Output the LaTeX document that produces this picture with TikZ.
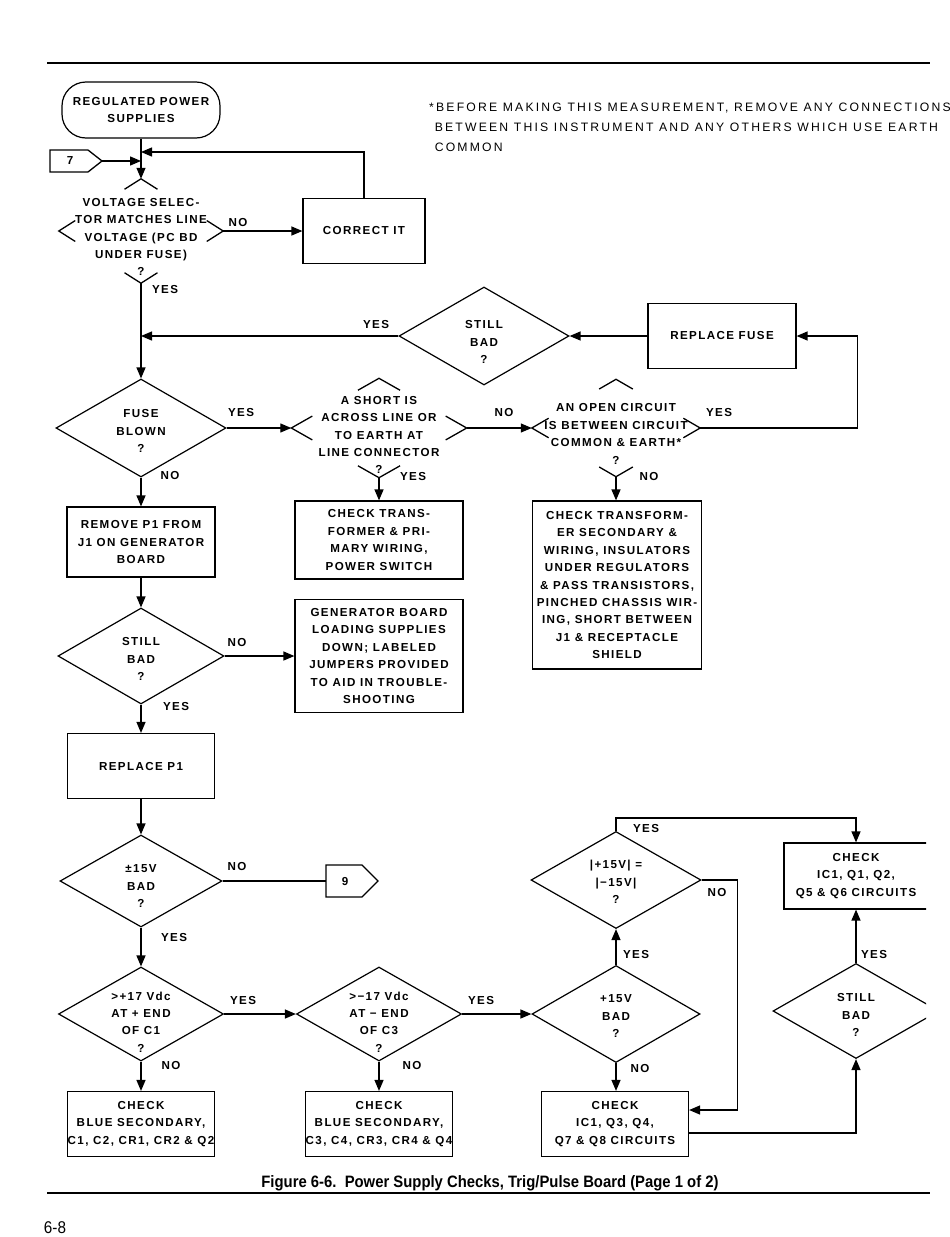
\documentclass[tikz,border=0pt]{standalone}
\usepackage{fontspec}
\usetikzlibrary{arrows.meta,calc,shapes.geometric}

\newfontfamily\chartfam[LetterSpace=12]{Liberation Sans}
\newfontfamily\notefam[LetterSpace=18]{Liberation Sans}
\newfontfamily\capfam[FakeStretch=0.9]{Liberation Sans}
\newcommand\chfont{\chartfam\bfseries\fontsize{11.6}{17.4}\selectfont}

\tikzset{
  wire/.style={line width=1.3pt},
  flow/.style={wire, -{Triangle[length=11pt,width=9pt]}},
  box/.style={draw, line width=1.2pt, align=center, inner sep=0pt, font=\chfont},
  txt/.style={align=center, inner sep=0pt, font=\chfont},
  dia/.style={diamond, draw, line width=1.2pt, inner sep=0pt},
  hexa/.style={diamond, inner sep=0pt},
}

% corners of a decision drawn only at its four points
\newcommand\corners[2][0.2]{%
  \draw[wire] ($(#2.north)!#1!(#2.west)$) -- (#2.north) -- ($(#2.north)!#1!(#2.east)$);
  \draw[wire] ($(#2.west)!#1!(#2.north)$) -- (#2.west) -- ($(#2.west)!#1!(#2.south)$);
  \draw[wire] ($(#2.east)!#1!(#2.north)$) -- (#2.east) -- ($(#2.east)!#1!(#2.south)$);
  \draw[wire] ($(#2.south)!#1!(#2.west)$) -- (#2.south) -- ($(#2.south)!#1!(#2.east)$);}

\begin{document}
\begin{tikzpicture}[x=1pt, y=-1pt]
  \useasboundingbox (0,0) rectangle (950,1237);
  \clip (0,0) rectangle (950,1237);
  \fill[white] (0,0) rectangle (950,1237);

  % page rules and footnote
  \draw[line width=1.6pt] (47,63) -- (930,63);
  \draw[line width=1.6pt] (47,1193) -- (930,1193);
  \node[anchor=west, align=left, inner sep=0pt, font={\notefam\fontsize{12.2}{20}\selectfont}] (note) at (429,127)
    {*BEFORE MAKING THIS MEASUREMENT, REMOVE ANY CONNECTIONS\\
     \ BETWEEN THIS INSTRUMENT AND ANY OTHERS WHICH USE EARTH\\
     \ COMMON};

  % left column
  \node[box, rounded corners=24pt, minimum width=158pt, minimum height=56pt] (start) at (141,110) {REGULATED POWER\\SUPPLIES};
  \node[hexa, minimum width=164pt, minimum height=104pt] (vs) at (141,231) {};
  \corners{vs}
  \node[txt] (vs-t) at (141,237) {VOLTAGE SELEC-\\TOR MATCHES LINE\\VOLTAGE (PC BD\\UNDER FUSE)\\?};
  \node[box, minimum width=122pt, minimum height=65pt] (ci) at (364,231) {CORRECT IT};

  \draw[wire] (50,150) -- (88,150) -- (102,161) -- (88,172) -- (50,172) -- cycle;
  \node[txt] (c7) at (70,161) {7};
  \coordinate (c7tip) at (102,161);
  \coordinate (j1) at (141,152);

  \node[dia, minimum width=170pt, minimum height=98pt] (sb1) at (484,336) {};
  \node[txt] (sb1-t) at (484,342) {STILL\\BAD\\?};
  \node[box, minimum width=148pt, minimum height=65pt] (rf) at (722,336) {REPLACE FUSE};
  \coordinate (j2) at (141,336);

  \node[dia, minimum width=170pt, minimum height=98pt] (fb) at (141,428) {};
  \node[txt] (fb-t) at (141,431) {FUSE\\BLOWN\\?};
  \node[hexa, minimum width=175pt, minimum height=99pt] (sh) at (379,428) {};
  \corners[0.24]{sh}
  \node[txt] (sh-t) at (379,435) {A SHORT IS\\ACROSS LINE OR\\TO EARTH AT\\LINE CONNECTOR\\?};
  \node[hexa, minimum width=168pt, minimum height=97pt] (op) at (616,428) {};
  \corners{op}
  \node[txt] (op-t) at (616,434) {AN OPEN CIRCUIT\\IS BETWEEN CIRCUIT\\COMMON \& EARTH*\\?};

  \node[box, minimum width=148pt, minimum height=70pt] (rm) at (141,542) {REMOVE P1 FROM\\J1 ON GENERATOR\\BOARD};
  \node[box, minimum width=168pt, minimum height=78pt] (ct) at (379,540) {CHECK TRANS-\\FORMER \& PRI-\\MARY WIRING,\\POWER SWITCH};
  \node[box, minimum width=169pt, minimum height=168pt] (cx) at (617,585) {CHECK TRANSFORM-\\ER SECONDARY \&\\WIRING, INSULATORS\\UNDER REGULATORS\\\& PASS TRANSISTORS,\\PINCHED CHASSIS WIR-\\ING, SHORT BETWEEN\\J1 \& RECEPTACLE\\SHIELD};

  \node[dia, minimum width=166pt, minimum height=96pt] (sb2) at (141,656) {};
  \node[txt] (sb2-t) at (141,659) {STILL\\BAD\\?};
  \node[box, minimum width=168pt, minimum height=113pt] (gb) at (379,656) {GENERATOR BOARD\\LOADING SUPPLIES\\DOWN; LABELED\\JUMPERS PROVIDED\\TO AID IN TROUBLE-\\SHOOTING};
  \node[box, minimum width=147pt, minimum height=65pt] (rp) at (141,766) {REPLACE P1};

  \node[dia, minimum width=162pt, minimum height=92pt] (pm) at (141,881) {};
  \node[txt] (pm-t) at (141,886) {±15V\\BAD\\?};
  \draw[wire] (326,865) -- (362,865) -- (378,881) -- (362,897) -- (326,897) -- cycle;
  \node[txt] (c9) at (345,881) {9};
  \coordinate (c9in) at (326,881);

  \node[dia, minimum width=165pt, minimum height=94pt] (p17) at (141,1014) {};
  \node[txt] (p17-t) at (141,1022) {>+17 Vdc\\AT + END\\OF C1\\?};
  \node[dia, minimum width=165pt, minimum height=94pt] (m17) at (379,1014) {};
  \node[txt] (m17-t) at (379,1022) {>−17 Vdc\\AT − END\\OF C3\\?};
  \node[box, minimum width=147pt, minimum height=65pt] (cb1) at (141,1124) {CHECK\\BLUE SECONDARY,\\C1, C2, CR1, CR2 \& Q2};
  \node[box, minimum width=147pt, minimum height=65pt] (cb2) at (379,1124) {CHECK\\BLUE SECONDARY,\\C3, C4, CR3, CR4 \& Q4};

  % right part
  \node[dia, minimum width=168pt, minimum height=97pt] (p15) at (616,1014) {};
  \node[txt] (p15-t) at (616,1016) {+15V\\BAD\\?};
  \node[dia, minimum width=170pt, minimum height=97pt] (ab) at (616,880) {};
  \node[txt] (ab-t) at (616,882) {|+15V| =\\|−15V|\\?};
  \node[box, minimum width=147pt, minimum height=65pt] (ci2) at (615,1124) {CHECK\\IC1, Q3, Q4,\\Q7 \& Q8 CIRCUITS};
  \begin{scope}
    \clip (700,800) rectangle (926,1100);
    \node[box, minimum width=144pt, minimum height=66pt] (cq) at (856,876) {CHECK\\IC1, Q1, Q2,\\Q5 \& Q6 CIRCUITS};
    \node[dia, minimum width=166pt, minimum height=95pt] (sb3) at (856,1011) {};
    \node[txt] (sb3-t) at (856,1015) {STILL\\BAD\\?};
  \end{scope}

  % connectors
  \draw[wire] (start) -- (j1);
  \draw[flow] (j1) -- (vs.north);
  \draw[flow] (c7tip) -- (c7tip -| start);
  \draw[flow] (vs.east) -- (vs.east -| ci.west);
  \draw[flow] (ci.north) |- (j1);
  \draw[flow] (vs.south) -- (fb.north);
  \draw[flow] (rf.west) -- (sb1.east);
  \draw[flow] (sb1.west) -- (j2);
  \draw[flow] (fb.east) -- (sh.west);
  \draw[flow] (sh.east) -- (op.west);
  \draw[flow] (op.east) -- ++(157,0) |- (rf.east);
  \draw[flow] (sh.south) -- (ct.north);
  \draw[flow] (op.south) -- (op.south |- cx.north);
  \draw[flow] (fb.south) -- (rm.north);
  \draw[flow] (rm.south) -- (sb2.north);
  \draw[flow] (sb2.east) -- (gb.west);
  \draw[flow] (sb2.south) -- (rp.north);
  \draw[flow] (rp.south) -- (pm.north);
  \draw[wire] (pm.east) -- (c9in);
  \draw[flow] (pm.south) -- (p17.north);
  \draw[flow] (p17.east) -- (m17.west);
  \draw[flow] (p17.south) -- (cb1.north);
  \draw[flow] (m17.south) -- (cb2.north);
  \draw[flow] (m17.east) -- (p15.west);
  \draw[flow] (p15.north) -- (ab.south);
  \draw[flow] (p15.south) -- (p15.south |- ci2.north);
  \draw[flow] (ab.north) -- ++(0,-13) -| (cq.north);
  \draw[flow] (ab.east) -- ++(36,0) |- ([yshift=14pt]ci2.east);
  \draw[flow] ([yshift=-9pt]ci2.east) -| (sb3.south);
  \draw[flow] (sb3.north) -- (cq.south);

  % branch labels
  \node[txt] (l-vs-no) at (238,223) {NO};
  \node[txt] (l-vs-yes) at (165,290) {YES};
  \node[txt] (l-sb1-yes) at (376,325) {YES};
  \node[txt] (l-fb-yes) at (241,413) {YES};
  \node[txt] (l-fb-no) at (170,476) {NO};
  \node[txt] (l-sh-no) at (504,413) {NO};
  \node[txt] (l-sh-yes) at (413,477) {YES};
  \node[txt] (l-op-yes) at (719,413) {YES};
  \node[txt] (l-op-no) at (649,477) {NO};
  \node[txt] (l-sb2-no) at (237,642) {NO};
  \node[txt] (l-sb2-yes) at (176,706) {YES};
  \node[txt] (l-pm-no) at (237,866) {NO};
  \node[txt] (l-pm-yes) at (174,937) {YES};
  \node[txt] (l-p17-yes) at (243,1000) {YES};
  \node[txt] (l-p17-no) at (171,1065) {NO};
  \node[txt] (l-m17-yes) at (481,1000) {YES};
  \node[txt] (l-m17-no) at (412,1065) {NO};
  \node[txt] (l-p15-yes) at (636,954) {YES};
  \node[txt] (l-p15-no) at (640,1068) {NO};
  \node[txt] (l-ab-yes) at (646,828) {YES};
  \node[txt] (l-ab-no) at (717,892) {NO};
  \node[txt] (l-sb3-yes) at (874,954) {YES};

  % caption and page number
  \node[inner sep=0pt, font={\capfam\bfseries\fontsize{16.5}{18}\selectfont}] (cap) at (490,1183)
    {Figure 6-6.\ \ Power Supply Checks, Trig/Pulse Board (Page 1 of 2)};
  \node[inner sep=0pt, font={\capfam\fontsize{17}{19}\selectfont}] (pg) at (55,1228) {6-8};
\end{tikzpicture}
\end{document}
